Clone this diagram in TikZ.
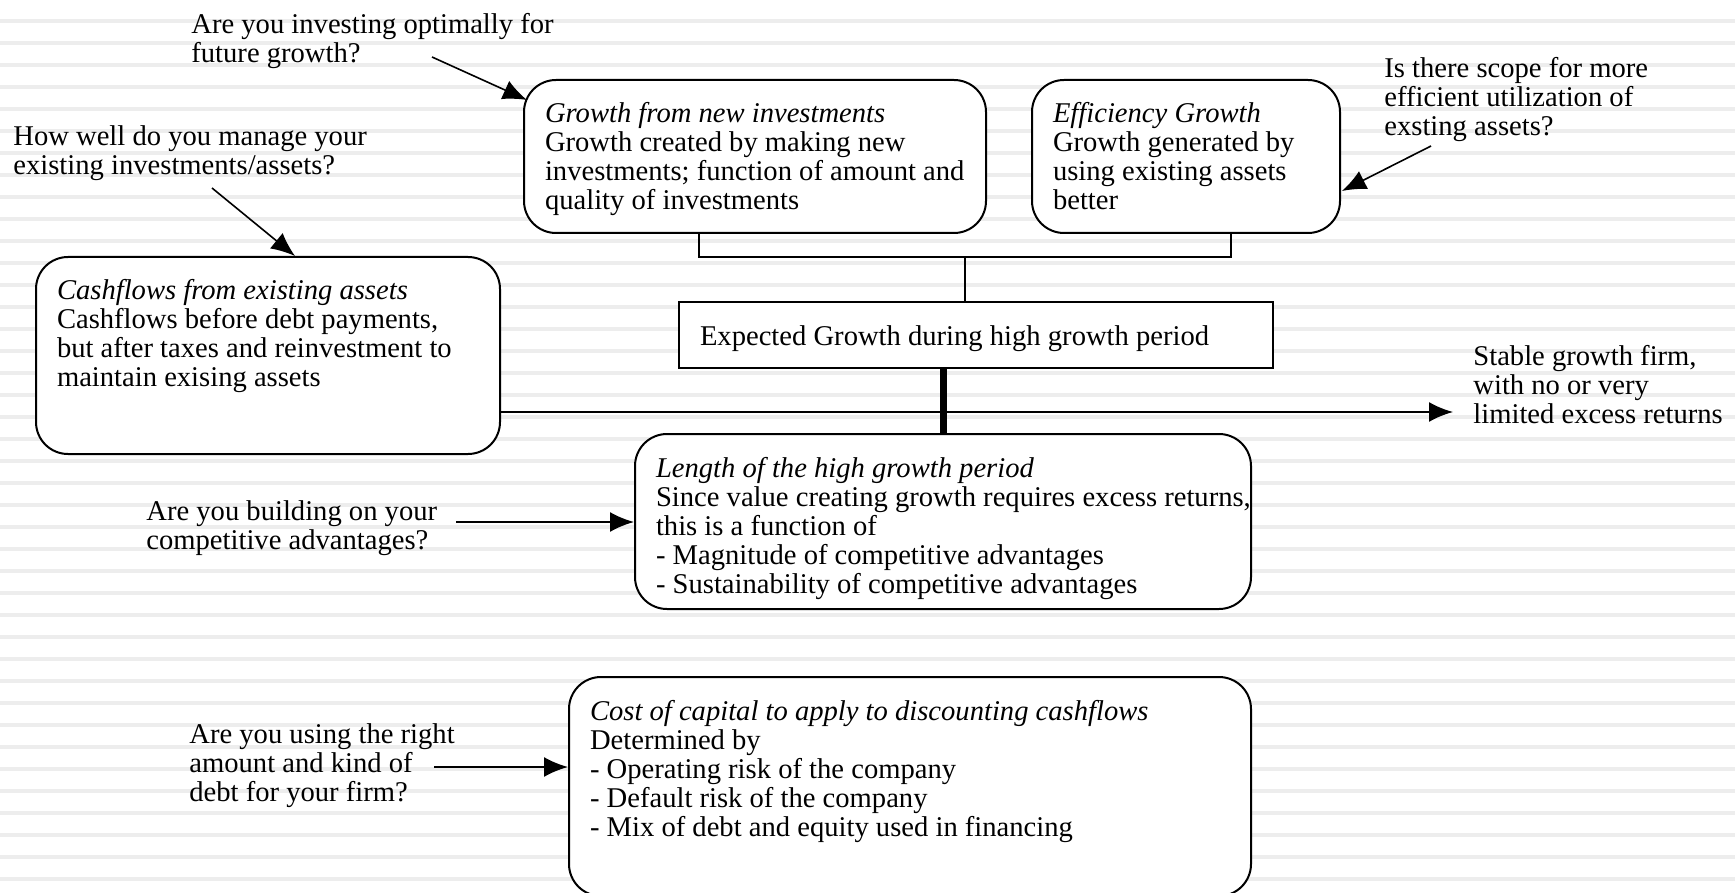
\documentclass[tikz,border=0pt]{standalone}
\usepackage{fontspec}
\setmainfont{Liberation Serif}
\usetikzlibrary{arrows.meta,calc}
\definecolor{stripecol}{RGB}{237,237,237}
\newcommand\bt[3]{\parbox[t][#2][t]{#1}{\raggedright\strut#3}}
\begin{document}
\begin{tikzpicture}[x=0.5pt,y=-0.5pt,
  every node/.style={font=\fontsize{14.3pt}{14.5pt}\selectfont},
  rbox/.style={draw, line width=1pt, rounded corners=16pt, fill=white, inner xsep=10.5pt, inner ysep=11.35pt, anchor=north west},
  sbox/.style={draw, line width=1pt, fill=white, inner xsep=10.5pt, inner ysep=11.35pt, anchor=north west},
  qtext/.style={anchor=north west, align=left, inner sep=0pt},
  conn/.style={line width=1pt},
  thick conn/.style={line width=3.5pt},
  arr/.style={line width=1pt, -{Latex[length=12pt,width=10pt]}},
  slant arr/.style={line width=0.8pt, -{Latex[length=12pt,width=10pt]}},
  stripe/.style={line width=2pt, stripecol}]
\useasboundingbox (0,0) rectangle (1735,893);
\fill[white] (0,0) rectangle (1735,893);
\foreach \k in {0,...,40} \draw[stripe] (0,{21+22*\k}) -- (1735,{21+22*\k});

% boxes
\node[rbox] (growth) at (523,79) {\bt{210pt}{53.8pt}{\textit{Growth from new investments}\\\mbox{Growth created by making new}\\\mbox{investments; function of amount and}\\\mbox{quality of investments}}};
\node[rbox] (eff) at (1031,79) {\bt{133pt}{53.8pt}{\textit{Efficiency Growth}\\\mbox{Growth generated by}\\\mbox{using existing assets}\\\mbox{better}}};
\node[rbox] (cash) at (35,256) {\bt{211pt}{75.8pt}{\textit{Cashflows from existing assets}\\\mbox{Cashflows before debt payments,}\\\mbox{but after taxes and reinvestment to}\\\mbox{maintain exising assets}}};
\node[sbox] (expected) at (678,301) {\bt{276pt}{8.8pt}{Expected Growth during high growth period}};
\node[rbox] (length) at (634,433) {\bt{287pt}{64.8pt}{\textit{Length of the high growth period}\\\mbox{Since value creating growth requires excess returns,}\\\mbox{this is a function of}\\\mbox{- Magnitude of competitive advantages}\\\mbox{- Sustainability of competitive advantages}}};
\node[rbox] (cost) at (568,676) {\bt{320pt}{86.8pt}{\textit{Cost of capital to apply to discounting cashflows}\\\mbox{Determined by}\\\mbox{- Operating risk of the company}\\\mbox{- Default risk of the company}\\\mbox{- Mix of debt and equity used in financing}}};

% question texts
\node[qtext] (q1) at (191,12.7) {\strut Are you investing optimally for\\future growth?};
\node[qtext] (q2) at (13,124.7) {\strut How well do you manage your\\existing investments/assets?};
\node[qtext] (q3) at (1384,56.7) {\strut Is there scope for more\\efficient utilization of\\exsting assets?};
\node[qtext] (q4) at (146,499.7) {\strut Are you building on your\\competitive advantages?};
\node[qtext] (q5) at (189,722.7) {\strut Are you using the right\\amount and kind of\\debt for your firm?};
\node[qtext] (stable) at (1473,344.7) {\strut Stable growth firm,\\with no or very\\limited excess returns};

% connector end points
\coordinate (bl) at (699,257);
\coordinate (br) at (1231,257);
\coordinate (bm) at (965,257);
\coordinate (q1s) at (432,57);
\coordinate (q2s) at (212,188);
\coordinate (q3s) at (1431,146);
\coordinate (q4s) at (456,522);
\coordinate (q5s) at (434,767);
\coordinate (hs) at (499,412);
\coordinate (stabletip) at (1453,412);

% bracket joining growth sources
\draw[conn] (growth.south -| bl) -- (bl) -- (br) -- (eff.south -| br);
\draw[conn] (bm) -- (bm |- expected.north);

% horizontal arrow to stable growth
\draw[arr] (hs) -- (stabletip);
% thick link expected -> length
\draw[thick conn] (length.north) -- (length.north |- expected.south);

% question arrows
\draw[slant arr] (q1s) -- ($(growth.north west)+(4,21)$);
\draw[slant arr] (q2s) -- ($(cash.north west)+(260,0)$);
\draw[slant arr] (q3s) -- ($(eff.east)+(1,34.5)$);
\draw[arr] (q4s) -- (q4s -| length.west);
\draw[arr] (q5s) -- (q5s -| cost.west);
\end{tikzpicture}
\end{document}
